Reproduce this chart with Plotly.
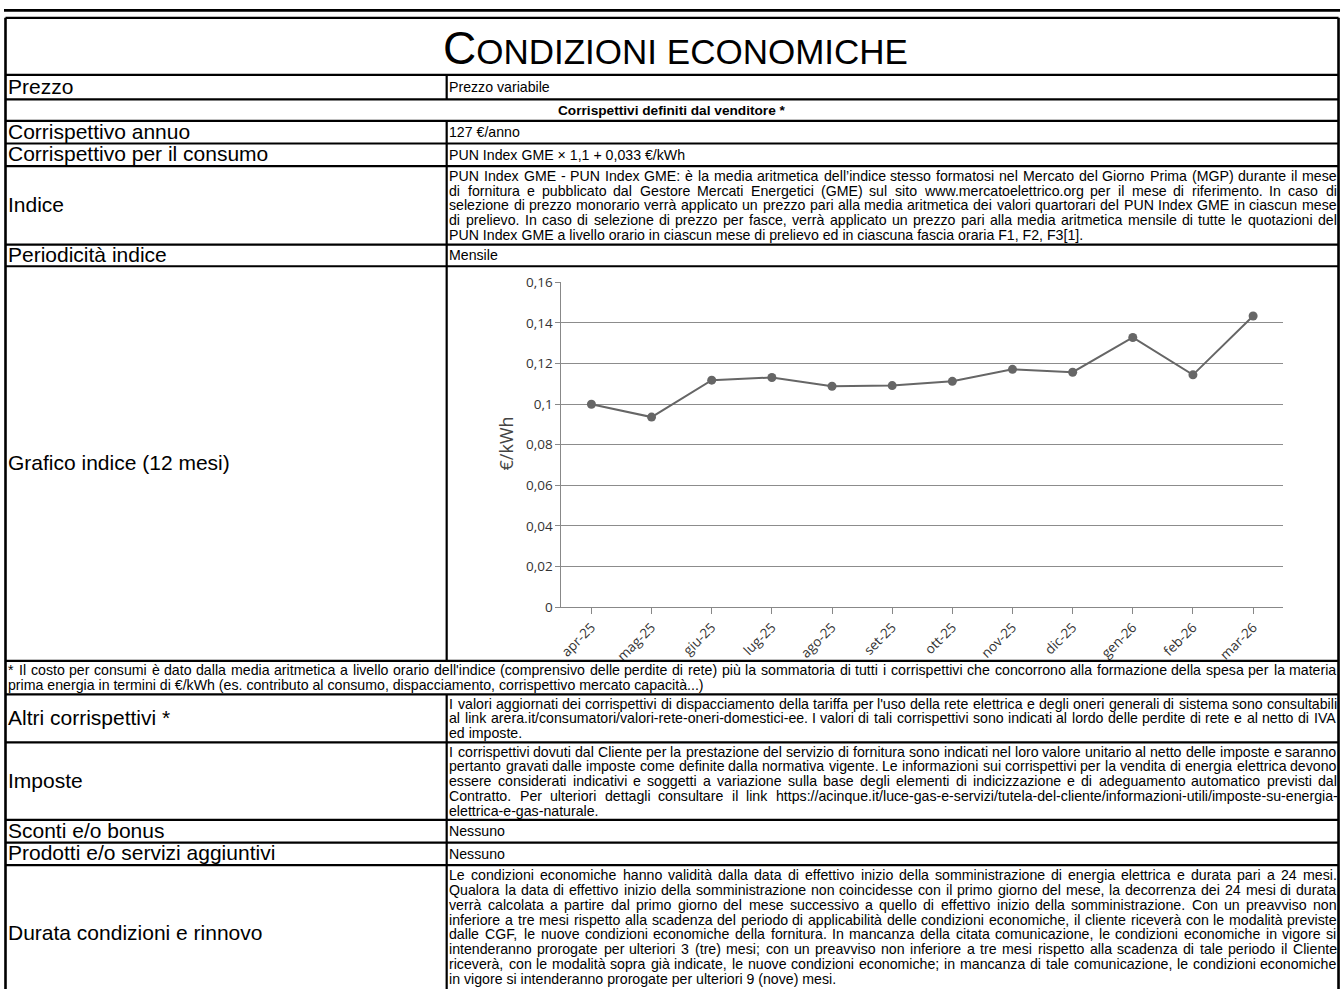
import plotly.graph_objects as go

# ---------------- data ----------------
months = ["apr-25", "mag-25", "giu-25", "lug-25", "ago-25", "set-25",
          "ott-25", "nov-25", "dic-25", "gen-26", "feb-26", "mar-26"]
pun_values = [0.0999, 0.0936, 0.1118, 0.1131, 0.1088, 0.1091,
              0.1112, 0.1171, 0.1157, 0.1328, 0.1144, 0.1434]
y_tickvals = [0, 0.02, 0.04, 0.06, 0.08, 0.1, 0.12, 0.14, 0.16]
y_ticktext = ["0", "0,02", "0,04", "0,06", "0,08", "0,1", "0,12", "0,14", "0,16"]
y_axis_title = "€/kWh"

title_first = "C"
title_rest = "ONDIZIONI ECONOMICHE"

row_labels = ["", "Prezzo", "", "Corrispettivo annuo", "Corrispettivo per il consumo",
              "Indice", "Periodicità indice", "Grafico indice (12 mesi)", "",
              "Altri corrispettivi *", "Imposte", "Sconti e/o bonus",
              "Prodotti e/o servizi aggiuntivi", "Durata condizioni e rinnovo"]

single_values = {1: "Prezzo variabile", 3: "127 €/anno",
                 4: "PUN Index GME × 1,1 + 0,033 €/kWh", 6: "Mensile",
                 11: "Nessuno", 12: "Nessuno"}
section_header = "Corrispettivi definiti dal venditore *"

indice_lines = [
    "PUN Index GME - PUN Index GME: è la media aritmetica dell’indice stesso formatosi nel Mercato del Giorno Prima (MGP) durante il mese",
    "di fornitura e pubblicato dal Gestore Mercati Energetici (GME) sul sito www.mercatoelettrico.org per il mese di riferimento. In caso di",
    "selezione di prezzo monorario verrà applicato un prezzo pari alla media aritmetica dei valori quartorari del PUN Index GME in ciascun mese",
    "di prelievo. In caso di selezione di prezzo per fasce, verrà applicato un prezzo pari alla media aritmetica mensile di tutte le quotazioni del",
    "PUN Index GME a livello orario in ciascun mese di prelievo ed in ciascuna fascia oraria F1, F2, F3[1].",
]
footnote_lines = [
    "* Il costo per consumi è dato dalla media aritmetica a livello orario dell'indice (comprensivo delle perdite di rete) più la sommatoria di tutti i corrispettivi che concorrono alla formazione della spesa per la materia",
    "prima energia in termini di €/kWh (es. contributo al consumo, dispacciamento, corrispettivo mercato capacità...)",
]
altri_lines = [
    "I valori aggiornati dei corrispettivi di dispacciamento della tariffa per l'uso della rete elettrica e degli oneri generali di sistema sono consultabili",
    "al link arera.it/consumatori/valori-rete-oneri-domestici-ee. I valori di tali corrispettivi sono indicati al lordo delle perdite di rete e al netto di IVA",
    "ed imposte.",
]
imposte_lines = [
    "I corrispettivi dovuti dal Cliente per la prestazione del servizio di fornitura sono indicati nel loro valore unitario al netto delle imposte e saranno",
    "pertanto gravati dalle imposte come definite dalla normativa vigente. Le informazioni sui corrispettivi per la vendita di energia elettrica devono",
    "essere considerati indicativi e soggetti a variazione sulla base degli elementi di indicizzazione e di adeguamento automatico previsti dal",
    "Contratto. Per ulteriori dettagli consultare il link https://acinque.it/luce-gas-e-servizi/tutela-del-cliente/informazioni-utili/imposte-su-energia-",
    "elettrica-e-gas-naturale.",
]
durata_lines = [
    "Le condizioni economiche hanno validità dalla data di effettivo inizio della somministrazione di energia elettrica e durata pari a 24 mesi.",
    "Qualora la data di effettivo inizio della somministrazione non coincidesse con il primo giorno del mese, la decorrenza dei 24 mesi di durata",
    "verrà calcolata a partire dal primo giorno del mese successivo a quello di effettivo inizio della somministrazione. Con un preavviso non",
    "inferiore a tre mesi rispetto alla scadenza del periodo di applicabilità delle condizioni economiche, il cliente riceverà con le modalità previste",
    "dalle CGF, le nuove condizioni economiche della fornitura. In mancanza della citata comunicazione, le condizioni economiche in vigore si",
    "intenderanno prorogate per ulteriori 3 (tre) mesi; con un preavviso non inferiore a tre mesi rispetto alla scadenza di tale periodo il Cliente",
    "riceverà, con le modalità sopra già indicate, le nuove condizioni economiche; in mancanza di tale comunicazione, le condizioni economiche",
    "in vigore si intenderanno prorogate per ulteriori 9 (nove) mesi.",
]
paragraphs = {5: indice_lines, 9: altri_lines, 10: imposte_lines, 13: durata_lines}

# ---------------- layout geometry (pixels) ----------------
W, H = 1344, 989
row_edges = [9, 67, 92, 114, 137, 160, 240, 262, 664, 698, 747, 826, 849, 872, 1012]
full_width_rows = {0, 2, 8}
X_LEFT, X_RIGHT, X_DIV = 1.5, 1338.5, 444
TXT_L, TXT_R = 445.8, 1335.5
FONT = "Liberation Sans, Arial, sans-serif"
CHART_FONT = "Open Sans, sans-serif"


def X(p):
    return p / W


def Y(p):
    return 1 - p / H


# Arial / Helvetica advance widths (1/1000 em)
_w = {' ': 278, '!': 278, '"': 355, '#': 556, '$': 556, '%': 889, '&': 667, "'": 191,
      '(': 333, ')': 333, '*': 389, '+': 584, ',': 278, '-': 333, '.': 278, '/': 278,
      ':': 278, ';': 278, '<': 584, '=': 584, '>': 584, '?': 556, '@': 1015, '[': 278,
      '\\': 278, ']': 278, '^': 469, '_': 556, '`': 333, '{': 334, '|': 260, '}': 334,
      '~': 584, 'à': 556, 'è': 556, 'é': 556, 'ì': 278, 'ò': 556, 'ù': 556, '€': 556,
      '×': 584, '’': 222}
for c in "0123456789":
    _w[c] = 556
for c, v in zip("ABCDEFGHIJKLMNOPQRSTUVWXYZ",
                [667, 667, 722, 722, 667, 611, 778, 722, 278, 500, 667, 556, 833, 722, 778,
                 667, 778, 722, 667, 611, 722, 667, 944, 667, 667, 611]):
    _w[c] = v
for c, v in zip("abcdefghijklmnopqrstuvwxyz",
                [556, 556, 500, 556, 556, 278, 556, 556, 222, 222, 500, 222, 833, 556, 556,
                 556, 556, 333, 500, 278, 556, 500, 722, 500, 500, 500]):
    _w[c] = v


def em(s):
    return sum(_w.get(ch, 556) for ch in s) / 1000.0


# paragraph font size derived from the fullest justified line
just_lines = [l for p in paragraphs.values() for l in p[:-1]]
FS = round(0.995 * (TXT_R - TXT_L) / max(em(l) for l in just_lines), 2)
LH = 15.0
LABEL_FS = 21

annotations = []
shapes = []


def add_text(x, y, text, size, anchor="left", bold=False, family=FONT, color="black"):
    if bold:
        text = "<b>" + text + "</b>"
    annotations.append(dict(x=X(x), y=Y(y), xref="paper", yref="paper", text=text,
                            showarrow=False, xanchor=anchor, yanchor="middle",
                            borderpad=0, font=dict(family=family, size=size, color=color)))


def add_line_text(line, x0, x1, y, size, justify):
    words = line.split(" ")
    if not justify or len(words) < 2:
        add_text(x0, y, line, size)
        return
    total = sum(em(w) for w in words) * size
    gap = (x1 - x0 - total) / (len(words) - 1)
    cx = x0
    for w in words:
        add_text(cx, y, w, size)
        cx += em(w) * size + gap


def add_paragraph(lines, x0, x1, top, bottom, size, center=True):
    pad = (bottom - top - LH * len(lines)) / 2 if center else 3
    for i, line in enumerate(lines):
        yc = top + pad + LH * (i + 0.5)
        add_line_text(line, x0, x1, yc, size, justify=(i < len(lines) - 1))


# ---------------- table ----------------
shapes.append(dict(type="rect", xref="paper", yref="paper", x0=X(0), x1=X(1340),
                   y0=Y(0), y1=Y(2.7), fillcolor="black", line=dict(width=0)))
for e in row_edges:
    shapes.append(dict(type="line", xref="paper", yref="paper", x0=X(X_LEFT), x1=X(X_RIGHT),
                       y0=Y(e), y1=Y(e), line=dict(color="black", width=2.2)))
for xv in (X_LEFT, X_RIGHT):
    shapes.append(dict(type="line", xref="paper", yref="paper", x0=X(xv), x1=X(xv),
                       y0=Y(row_edges[0]), y1=Y(row_edges[-1]), line=dict(color="black", width=2.6)))
for r in range(len(row_labels)):
    if r in full_width_rows:
        continue
    shapes.append(dict(type="line", xref="paper", yref="paper", x0=X(X_DIV), x1=X(X_DIV),
                       y0=Y(row_edges[r]), y1=Y(row_edges[r + 1]), line=dict(color="black", width=2.2)))

# title (small caps)
annotations.append(dict(x=X(674), y=Y(40), xref="paper", yref="paper",
                        text="<span style='font-size:46px'>" + title_first + "</span>" + title_rest,
                        showarrow=False, xanchor="center", yanchor="middle", borderpad=0,
                        font=dict(family=FONT, size=35, color="black")))

for r, lab in enumerate(row_labels):
    if lab:
        add_text(3.5, (row_edges[r] + row_edges[r + 1]) / 2 - 1, lab, LABEL_FS)
for r, val in single_values.items():
    add_text(TXT_L, (row_edges[r] + row_edges[r + 1]) / 2, val, FS)
add_text(670, (row_edges[2] + row_edges[3]) / 2, section_header, FS - 0.5, anchor="center", bold=True)

for r, lines in paragraphs.items():
    add_paragraph(lines, TXT_L, TXT_R, row_edges[r], row_edges[r + 1], FS, center=(r != 13))
add_paragraph(footnote_lines, 3.5, TXT_R, row_edges[8], row_edges[9], FS)

# ---------------- chart ----------------
PLOT_L, PLOT_R, PLOT_T, PLOT_B = 559, 1283, 278.3, 609.3

fig = go.Figure(go.Scatter(x=months, y=pun_values, mode="lines+markers",
                           line=dict(color="#666666", width=2),
                           marker=dict(size=9, color="#666666"),
                           hoverinfo="skip", showlegend=False, cliponaxis=False))

annotations.append(dict(x=X(503), y=Y(443), xref="paper", yref="paper", text=y_axis_title,
                        showarrow=False, textangle=-90, xanchor="center", yanchor="middle",
                        font=dict(family=CHART_FONT, size=18, color="#444444")))

fig.update_layout(
    width=W, height=H, margin=dict(l=0, r=0, t=0, b=0),
    paper_bgcolor="white", plot_bgcolor="white",
    xaxis=dict(domain=[X(PLOT_L), X(PLOT_R)], type="category", range=[-0.5, 11.5],
               showline=True, linecolor="#888888", linewidth=1, ticks="outside", ticklen=6,
               tickcolor="#888888", tickangle=-45, showgrid=False, zeroline=False,
               tickfont=dict(family=CHART_FONT, size=13.5, color="#333333")),
    yaxis=dict(domain=[Y(PLOT_B), Y(PLOT_T)], range=[0, 0.16], tickvals=y_tickvals,
               ticktext=y_ticktext, showline=True, linecolor="#888888", linewidth=1,
               ticks="outside", ticklen=5, tickcolor="#888888", showgrid=True,
               gridcolor="#8c8c8c", gridwidth=1, zeroline=False,
               tickfont=dict(family=CHART_FONT, size=13.5, color="#333333")),
    annotations=annotations, shapes=shapes, font=dict(family=FONT),
)

fig.write_html("out.html", config={"displayModeBar": False},
               post_script="document.body.style.margin='0';document.body.style.overflow='hidden';")
